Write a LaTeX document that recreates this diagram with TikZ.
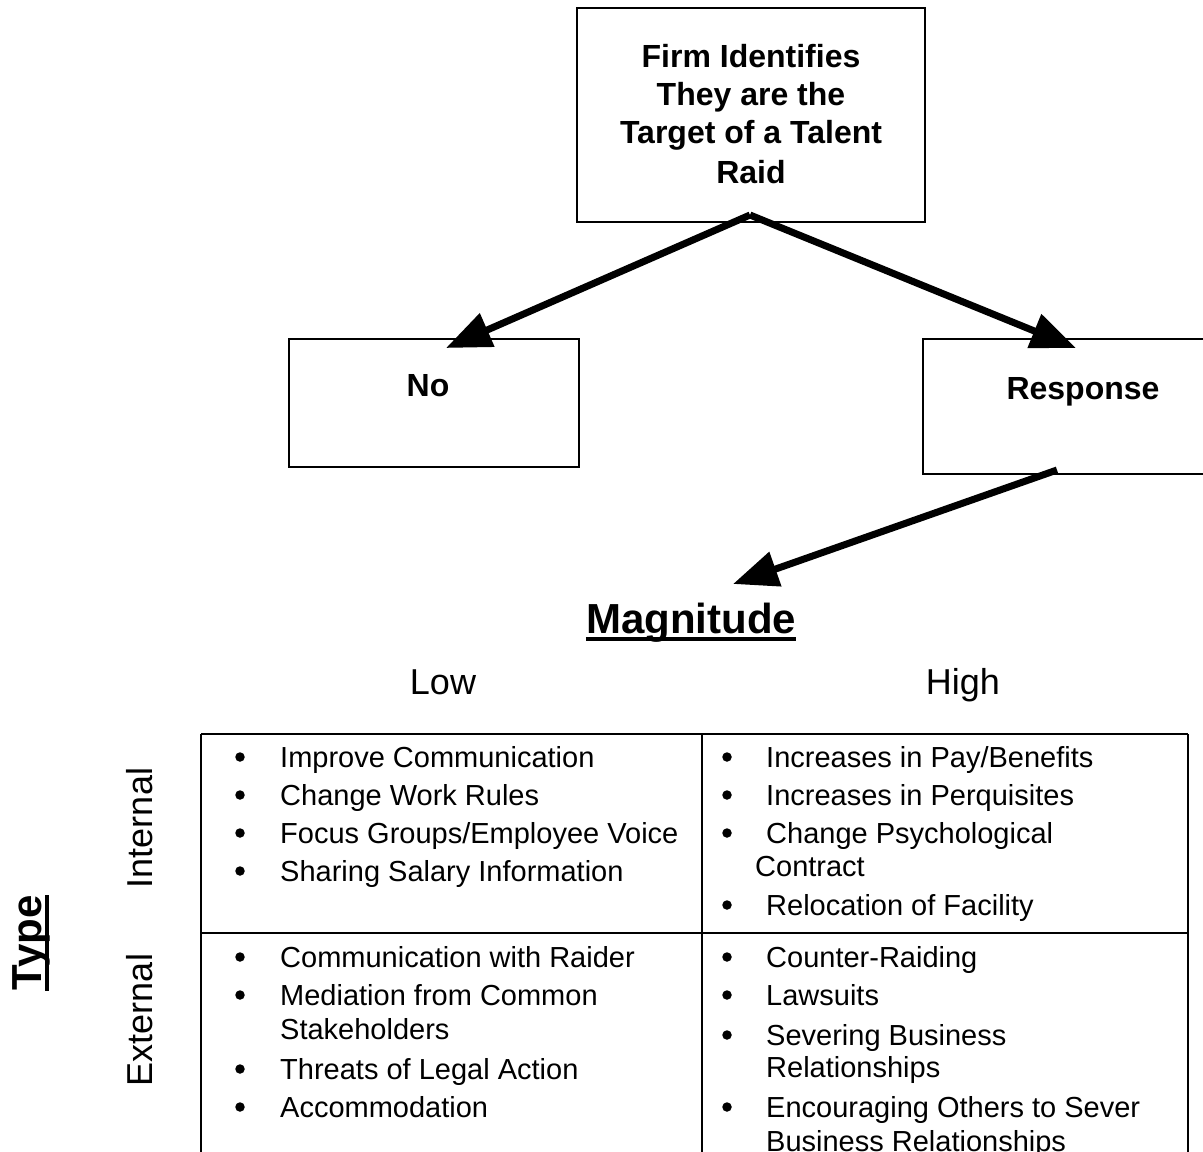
\documentclass[tikz,border=0pt]{standalone}
\usepackage{fontspec}
\setmainfont{Liberation Sans}
\usetikzlibrary{arrows.meta}
\tikzset{
  box/.style={draw, line width=2.2pt, inner sep=0pt},
  tline/.style={line width=2pt},
  arr/.style={line width=7pt, line join=miter, -{Triangle[length=45pt,width=35pt]}},
  boldtxt/.style={inner sep=0pt, anchor=base, font=\fontsize{32}{38}\selectfont\bfseries},
  bigbold/.style={inner sep=0pt, anchor=base, font=\fontsize{42}{50}\selectfont\bfseries},
  axis/.style={inner sep=0pt, anchor=base, font=\fontsize{36}{43}\selectfont},
  item/.style={inner sep=0pt, anchor=base west, font=\fontsize{29}{34}\selectfont},
  dot/.style={circle, fill=black, inner sep=0pt, minimum size=9.5pt, yshift=10pt},
}
\begin{document}
\begin{tikzpicture}[x=1pt,y=-1pt]
\useasboundingbox (0,0) rectangle (1203,1152);
\clip (0,0) rectangle (1203,1152);
\fill[white] (0,0) rectangle (1203,1152);
% boxes
\node[box, minimum width=348pt, minimum height=214pt] (firm) at (751,115) {};
\node[box, minimum width=290pt, minimum height=128pt] (no) at (434,403) {};
\node[box, minimum width=292pt, minimum height=135pt] (resp) at (1069,406.5) {};
\node[boldtxt] (f1) at (751,67) {Firm Identifies};
\node[boldtxt] (f2) at (751,105) {They are the};
\node[boldtxt] (f3) at (751,143) {Target of a Talent};
\node[boldtxt] (f4) at (751,183) {Raid};
\node[boldtxt] (notxt) at (428,396) {No};
\node[boldtxt] (resptxt) at (1083,399) {Response};
% arrows
\coordinate (apex) at (750,215);
\coordinate (noTip) at (446,348);
\coordinate (respTip) at (1076,348);
\coordinate (respOut) at (1057,470);
\coordinate (magTip) at (733,584);
\draw[arr] (apex) -- (noTip);
\draw[arr] (apex) -- (respTip);
\draw[arr] (respOut) -- (magTip);
% axis labels
\node[bigbold] (mag) at (691,633) {Magnitude};
\draw[line width=4pt] ([yshift=-6pt]mag.base west) -- ([yshift=-6pt]mag.base east);
\node[axis] (low) at (443,694) {Low};
\node[axis] (high) at (963,694) {High};
\node[bigbold, rotate=90] (type) at (41,943) {Type};
\draw[line width=4pt] ([xshift=6pt]type.base west) -- ([xshift=6pt]type.base east);
\node[axis, rotate=90] (int) at (152,828) {Internal};
\node[axis, rotate=90] (ext) at (152,1020) {External};
% table
\coordinate (tl) at (201,734);
\coordinate (tm) at (702,734);
\coordinate (tr) at (1188,734);
\coordinate (ml) at (201,933);
\coordinate (mr) at (1188,933);
\coordinate (bl) at (201,1170);
\coordinate (bm) at (702,1170);
\coordinate (br) at (1188,1170);
\draw[tline] (tl) -- (tr);
\draw[tline] (ml) -- (mr);
\draw[tline] (tl) -- (bl);
\draw[tline] (tm) -- (bm);
\draw[tline] (tr) -- (br);
% left top
\foreach \y/\t [count=\i] in {767/{Improve Communication}, 805/{Change Work Rules}, 843/{Focus Groups/Employee Voice}, 881/{Sharing Salary Information}}{
  \node[dot] (lb\i) at (240,\y) {};
  \node[item] (lt\i) at (280,\y) {\t};
}
% right top
\foreach \y/\t [count=\i] in {767/{Increases in Pay/Benefits}, 805/{Increases in Perquisites}, 843/{Change Psychological}, 915/{Relocation of Facility}}{
  \node[dot] (rb\i) at (727,\y) {};
  \node[item] (rt\i) at (766,\y) {\t};
}
\node[item] (rtc) at (755,876) {Contract};
% left bottom
\foreach \y/\t [count=\i] in {967/{Communication with Raider}, 1005/{Mediation from Common}, 1079/{Threats of Legal Action}, 1117/{Accommodation}}{
  \node[dot] (lbb\i) at (240,\y) {};
  \node[item] (lbt\i) at (280,\y) {\t};
}
\node[item] (lbs) at (280,1039) {Stakeholders};
% right bottom
\foreach \y/\t [count=\i] in {967/{Counter-Raiding}, 1005/{Lawsuits}, 1045/{Severing Business}, 1117/{Encouraging Others to Sever}}{
  \node[dot] (rbb\i) at (727,\y) {};
  \node[item] (rbt\i) at (766,\y) {\t};
}
\node[item] (rbr1) at (766,1077) {Relationships};
\node[item] (rbr2) at (766,1151) {Business Relationships};
\end{tikzpicture}
\end{document}
